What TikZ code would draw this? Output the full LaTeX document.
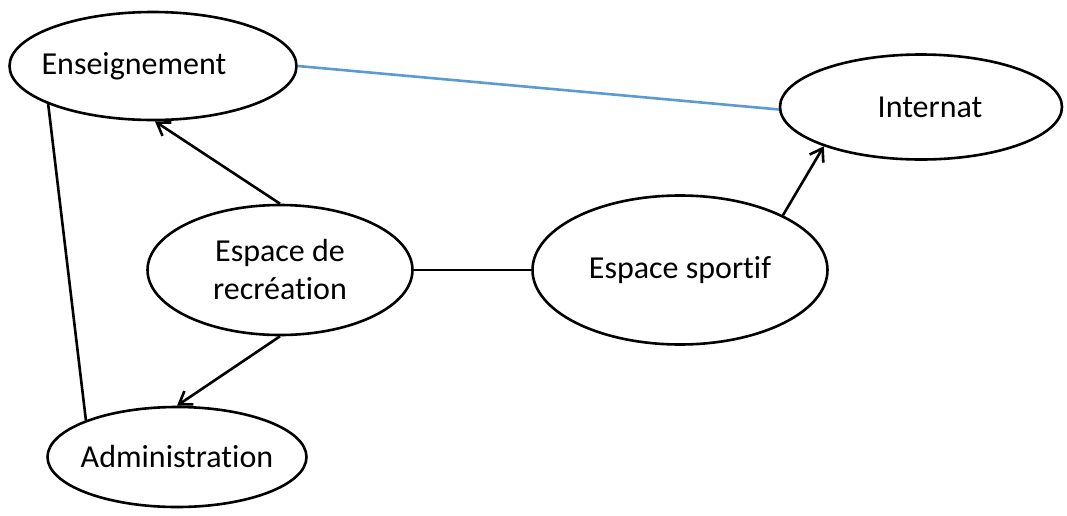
\documentclass[tikz,border=0pt]{standalone}
\usepackage{fontspec}
\setmainfont{Carlito}[Ligatures={NoCommon}]
\usetikzlibrary{arrows.meta,shapes.geometric}
\definecolor{linkblue}{HTML}{5B9BD5}
\tikzset{zone/.style={ellipse,draw=black,line width=1.3pt,fill=white,align=center,
  inner sep=0pt,font=\fontsize{16}{19}\selectfont},
  arrow/.style={-{Straight Barb[length=6pt,width=8pt]},line width=1.3pt,draw=black},
  link/.style={line width=1.3pt,draw=black}}

\begin{document}
\begin{tikzpicture}[x=0.5pt,y=-0.5pt]
\useasboundingbox (0,0) rectangle (1067,515);
\node[zone,minimum width=143.5pt,minimum height=54pt] (ens) at (153,66){\hspace*{-19pt}Enseignement};
\node[zone,minimum width=141pt,minimum height=52.5pt] (int) at (921,107){\hspace*{9pt}Internat};
\node[zone,minimum width=132.5pt,minimum height=65pt] (rec) at (280,270){Espace de\\recréation};
\node[zone,minimum width=147.5pt,minimum height=74.5pt] (spo) at (680,270){Espace sportif};
\node[zone,inner xsep=-6pt,minimum width=129.5pt,minimum height=50pt] (adm) at (177,457){Administration};
\draw[link,draw=linkblue] (ens.east)--(int.181);
\draw[arrow] (rec.north)--(ens.-88);
\draw[arrow] (rec.south)--(adm.north);
\draw[link] (rec.east)--(spo.west);
\draw[arrow] (spo.28)--(int.202);
\draw[link] (ens.200)--(adm.158);
\end{tikzpicture}
\end{document}
